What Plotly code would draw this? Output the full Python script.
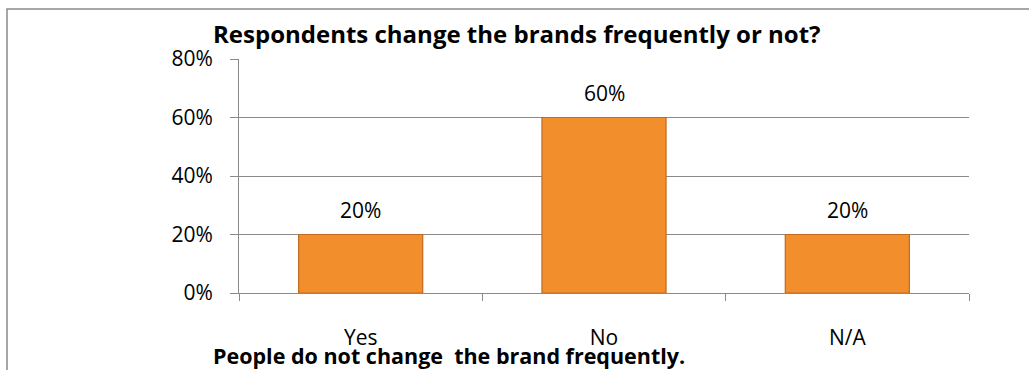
import plotly.graph_objects as go

# Survey answers and their share of respondents
categories = ["Yes", "No", "N/A"]
shares = [0.20, 0.60, 0.20]
y_ticks = [0, 0.2, 0.4, 0.6, 0.8]
y_tick_labels = ["0%", "20%", "40%", "60%", "80%"]

title_text = "Respondents change the brands frequently or not?"
note_text = "People do not change  the brand frequently."

font_family = "Open Sans, sans-serif"
grid_color = "#8a8a8a"

fig = go.Figure(
    go.Bar(
        x=categories,
        y=shares,
        width=0.51,
        marker=dict(color="#F28E2C", line=dict(color="#C26A1E", width=1.2)),
        hoverinfo="x+y",
    )
)

# Value labels above each bar
for cat, val in zip(categories, shares):
    fig.add_annotation(
        x=cat, y=val,
        text=f"{val:.0%}",
        xref="x", yref="y",
        yanchor="bottom",
        yshift=9,
        showarrow=False,
        font=dict(size=21, color="#000000", family=font_family),
    )

fig.update_layout(
    width=1029,
    height=370,
    margin=dict(l=239, r=60, t=59, b=77),
    paper_bgcolor="white",
    plot_bgcolor="white",
    showlegend=False,
    font=dict(family=font_family, size=21, color="#000000"),
)

fig.update_yaxes(
    range=[0, 0.8],
    tickvals=y_ticks,
    ticktext=y_tick_labels,
    showgrid=True,
    gridcolor=grid_color,
    gridwidth=1,
    showline=True,
    linecolor=grid_color,
    linewidth=1,
    ticks="outside",
    ticklen=8,
    tickcolor=grid_color,
    ticklabelstandoff=13,
    zeroline=False,
    tickfont=dict(size=21),
)

fig.update_xaxes(
    showline=True,
    linecolor=grid_color,
    linewidth=1,
    ticks="outside",
    tickson="boundaries",
    ticklen=7,
    tickcolor=grid_color,
    showgrid=False,
    tickfont=dict(size=21),
    ticklabelstandoff=26,
)

# Chart title
fig.add_annotation(
    text=f"<b>{title_text}</b>",
    xref="paper", yref="paper",
    x=-0.038, y=1.108,
    xanchor="left", yanchor="middle",
    showarrow=False,
    font=dict(size=24, family=font_family, color="#000000"),
)

# Conclusion line under the axis
fig.add_annotation(
    text=f"<b>{note_text}</b>",
    xref="paper", yref="paper",
    x=-0.038, y=-0.265,
    xanchor="left", yanchor="middle",
    showarrow=False,
    font=dict(size=21.5, family=font_family, color="#000000"),
)

# Chart frame
fig.add_shape(
    type="rect",
    xref="paper", yref="paper",
    x0=-0.3178, x1=1.2, y0=-0.5, y1=1.214,
    line=dict(color="#8a8a8a", width=1.5),
    fillcolor="rgba(0,0,0,0)",
    layer="below",
)

fig.write_html("out.html")
